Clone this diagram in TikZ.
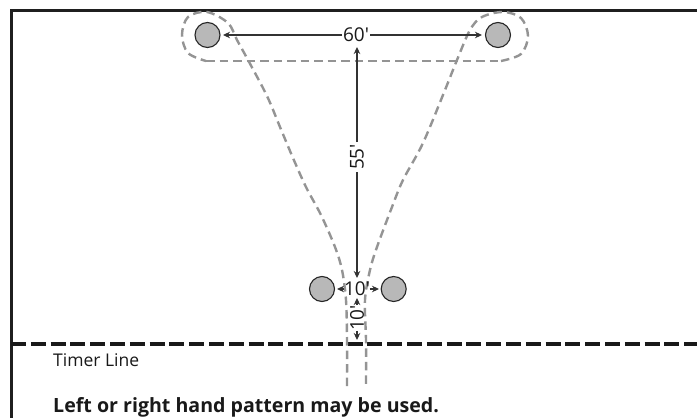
\documentclass[tikz,border=0pt]{standalone}
\usepackage{fontspec}
\setmainfont{Open Sans}
\usetikzlibrary{arrows.meta}
\tikzset{
  cone/.style={circle,draw=black!85,fill=black!28,line width=1.1pt,minimum size=25pt,inner sep=0pt,outer sep=0pt},
  dimlabel/.style={inner sep=0pt,outer sep=0pt,font=\fontsize{19}{19}\selectfont,text=black!90},
  dimline/.style={draw=black!80,line width=1.1pt,-{Stealth[length=7pt,width=6.5pt]}},
  route/.style={draw=black!42,line width=2.4pt,dash pattern=on 8.5pt off 5pt},
  frameline/.style={draw=black!88,line width=3pt},
  timer/.style={draw=black!90,line width=4pt,dash pattern=on 15pt off 4.8pt},
}
\begin{document}
\begin{tikzpicture}[x=1pt,y=-1pt]
\useasboundingbox (0,0) rectangle (697,418);
\fill[white] (0,0) rectangle (697,418);
\coordinate (fa) at (11,418);
\coordinate (fb) at (11,10);
\coordinate (fc) at (697,10);
\coordinate (ta) at (11,343.5);
\coordinate (tb) at (697,343.5);
\draw[frameline,line join=miter] (fa) -- (fb) -- (fc);
\draw[timer] (ta) -- (tb);
\draw[route] plot[smooth,tension=0.55] coordinates {
 (347,386) (347,340) (346,300) (342,270) (335,247) (321,215) (306,187) (293,158) (280,127) (267,96) (248,60) (237,40) (228,23)
 (207,12) (188,17) (182,35) (188,53) (206,61)};
\draw[route] (206,61) -- (501,61);
\draw[route] plot[smooth,tension=0.55] coordinates {
 (501,61) (521,54) (528,36) (521,18) (503,12) (482,17) (470,30) (457,60) (445,90) (423,143) (403,180) (392,207) (377,247) (370,270) (365,300) (366,340) (366,386)};
\node[cone] (tl) at (207.5,35) {};
\node[cone] (tr) at (498,35) {};
\node[cone] (bl) at (322,289) {};
\node[cone] (br) at (393.7,289) {};
\node[dimlabel,minimum width=28pt,minimum height=14pt] (sixty) at (356,35) {60′};
\node[dimlabel,minimum width=24pt,minimum height=14pt] (ten) at (357,289) {10′};
\node[dimlabel,rotate=90,minimum width=30pt] (ff) at (357,157) {55′};
\node[dimlabel,rotate=90,minimum width=24pt] (tenv) at (357,318) {10′};
\coordinate (ffb) at (357,278);
\coordinate (fft) at (357,47);
\coordinate (tvt) at (357,298);
\coordinate (tvb) at (357,340);
\coordinate (tl2) at (223,35);
\coordinate (tr2) at (482,35);
\coordinate (bl2) at (337,289);
\coordinate (br2) at (379,289);
\draw[dimline] (sixty.west) -- (tl2);
\draw[dimline] (sixty.east) -- (tr2);
\draw[dimline] (ff.east) -- (fft);
\draw[dimline] (ff.west) -- (ffb);
\draw[dimline] (ten.west) -- (bl2);
\draw[dimline] (ten.east) -- (br2);
\draw[dimline] (tenv.east) -- (tvt);
\draw[dimline] (tenv.west) -- (tvb);
\node[anchor=base west,inner sep=0pt,font=\fontsize{17.5}{17.5}\selectfont,text=black!90] (tml) at (53,366) {Timer Line};
\node[anchor=base west,inner sep=0pt,font=\fontsize{19.6}{19.6}\selectfont\bfseries,text=black!90] (note) at (53,412.5) {Left or right hand pattern may be used.};
\end{tikzpicture}
\end{document}
